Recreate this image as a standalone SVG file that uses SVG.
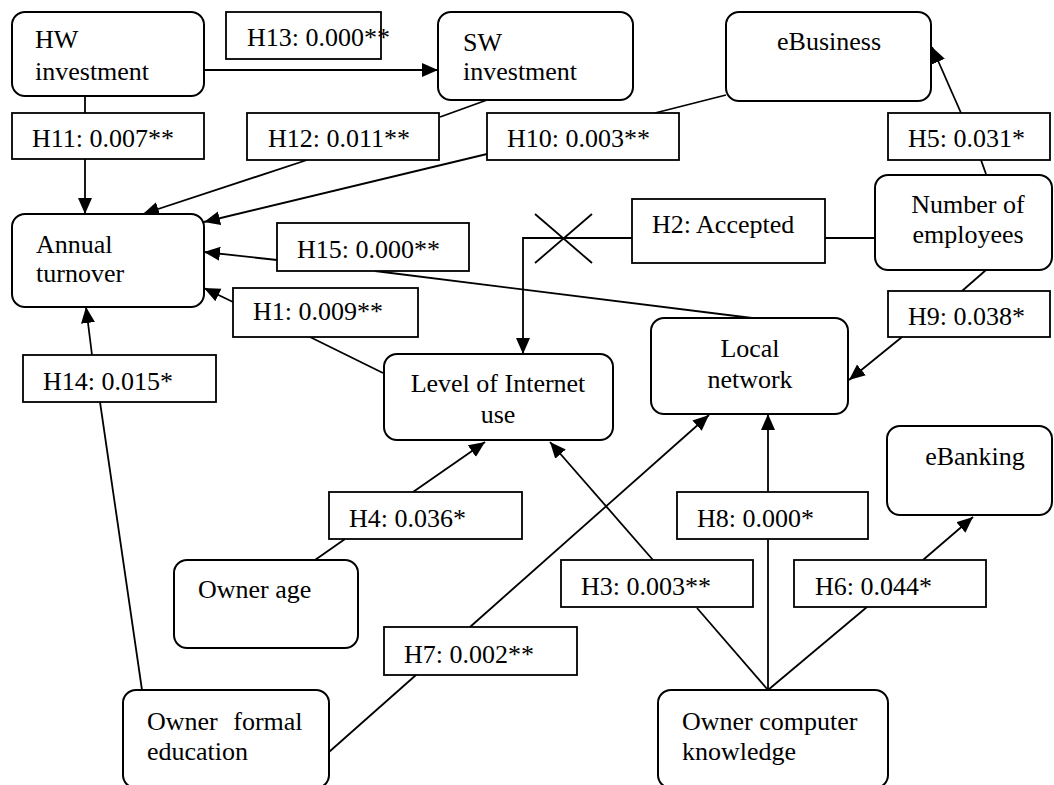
<svg xmlns="http://www.w3.org/2000/svg" width="1054" height="785" viewBox="0 0 1054 785">
<style>
.node{fill:#fff;stroke:#000;stroke-width:2}
.lbl{fill:#fff;stroke:#000;stroke-width:1.8}
text{font-family:"Liberation Serif","Times New Roman",serif;font-size:26px;fill:#000}
.c{text-anchor:middle}
.e{fill:none;stroke:#000;stroke-width:1.8}
</style>
<defs>
<marker id="ah" markerUnits="userSpaceOnUse" markerWidth="18" markerHeight="16" refX="16" refY="7" orient="auto">
<path d="M0,0 L16,7 L0,14 z" fill="#000"/>
</marker>
</defs>
<rect width="1054" height="785" fill="#fff"/>
<g id="connectors">
<line class="e" x1="204" y1="70" x2="438" y2="70" marker-end="url(#ah)"/>
<line class="e" x1="85" y1="96" x2="85" y2="113"/>
<line class="e" x1="85" y1="159" x2="85" y2="214" marker-end="url(#ah)"/>
<line class="e" x1="487" y1="100" x2="440" y2="117"/>
<line class="e" x1="307" y1="160" x2="143" y2="214" marker-end="url(#ah)"/>
<line class="e" x1="726" y1="95" x2="655" y2="113"/>
<line class="e" x1="487" y1="154" x2="204" y2="222" marker-end="url(#ah)"/>
<line class="e" x1="752" y1="318" x2="375" y2="271"/>
<line class="e" x1="277" y1="260" x2="204" y2="252" marker-end="url(#ah)"/>
<line class="e" x1="383" y1="373" x2="310" y2="337"/>
<line class="e" x1="233" y1="302" x2="204" y2="288" marker-end="url(#ah)"/>
<line class="e" x1="142" y1="690" x2="100" y2="402"/>
<line class="e" x1="92" y1="355" x2="86" y2="307" marker-end="url(#ah)"/>
<line class="e" x1="875" y1="238" x2="825" y2="238"/>
<polyline class="e" points="632,238 523,238 523,354" marker-end="url(#ah)"/>
<line class="e" x1="535" y1="214" x2="592" y2="263"/>
<line class="e" x1="592" y1="214" x2="535" y2="263"/>
<line class="e" x1="986" y1="174" x2="981" y2="160"/>
<line class="e" x1="961" y1="113" x2="932" y2="47" marker-end="url(#ah)"/>
<line class="e" x1="986" y1="270" x2="962" y2="291"/>
<line class="e" x1="902" y1="337" x2="849" y2="380" marker-end="url(#ah)"/>
<line class="e" x1="315" y1="560" x2="345" y2="539"/>
<line class="e" x1="413" y1="492" x2="485" y2="442" marker-end="url(#ah)"/>
<line class="e" x1="329" y1="752" x2="416" y2="675"/>
<line class="e" x1="470" y1="627" x2="709" y2="415" marker-end="url(#ah)"/>
<line class="e" x1="768" y1="690" x2="697" y2="608"/>
<line class="e" x1="653" y1="560" x2="550" y2="442" marker-end="url(#ah)"/>
<line class="e" x1="768" y1="690" x2="768" y2="539"/>
<line class="e" x1="768" y1="492" x2="768" y2="414" marker-end="url(#ah)"/>
<line class="e" x1="768" y1="690" x2="867" y2="607"/>
<line class="e" x1="923" y1="560" x2="973" y2="517" marker-end="url(#ah)"/>
</g>
<g id="hw"><rect class="node" x="12" y="12" width="192" height="84" rx="13"/><text x="35" y="48">HW</text><text x="35" y="80">investment</text></g>
<g id="sw"><rect class="node" x="438" y="12" width="195" height="88" rx="13"/><text x="463" y="51">SW</text><text x="463" y="80">investment</text></g>
<g id="ebusiness"><rect class="node" x="726" y="12" width="205" height="89" rx="13"/><text class="c" x="829" y="50">eBusiness</text></g>
<g id="annual"><rect class="node" x="12" y="214" width="192" height="93" rx="13"/><text x="36" y="253">Annual</text><text x="36" y="282">turnover</text></g>
<g id="employees"><rect class="node" x="875" y="175" width="177" height="95" rx="13"/><text class="c" x="968" y="213">Number of</text><text class="c" x="968" y="243">employees</text></g>
<g id="internet"><rect class="node" x="384" y="354" width="229" height="86" rx="13"/><text class="c" x="498" y="392">Level of Internet</text><text class="c" x="498" y="423">use</text></g>
<g id="localnet"><rect class="node" x="651" y="318" width="197" height="96" rx="13"/><text class="c" x="750" y="357">Local</text><text class="c" x="750" y="388">network</text></g>
<g id="ebanking"><rect class="node" x="887" y="426" width="165" height="89" rx="13"/><text class="c" x="975" y="465">eBanking</text></g>
<g id="ownerage"><rect class="node" x="174" y="560" width="184" height="88" rx="13"/><text x="198" y="598">Owner age</text></g>
<g id="education"><rect class="node" x="123" y="690" width="206" height="98" rx="13"/><text x="147" y="730" word-spacing="9">Owner formal</text><text x="147" y="760">education</text></g>
<g id="knowledge"><rect class="node" x="658" y="690" width="230" height="98" rx="13"/><text x="682" y="730">Owner computer</text><text x="682" y="760">knowledge</text></g>
<g id="h13"><rect class="lbl" x="226" y="12" width="155" height="47"/><text x="247" y="46">H13: 0.000**</text></g>
<g id="h11"><rect class="lbl" x="12" y="113" width="192" height="46"/><text x="32" y="147">H11: 0.007**</text></g>
<g id="h12"><rect class="lbl" x="247" y="113" width="192" height="47"/><text x="268" y="147">H12: 0.011**</text></g>
<g id="h10"><rect class="lbl" x="487" y="113" width="192" height="47"/><text x="507" y="147">H10: 0.003**</text></g>
<g id="h5"><rect class="lbl" x="888" y="113" width="162" height="47"/><text x="908" y="147">H5: 0.031*</text></g>
<g id="h2"><rect class="lbl" x="632" y="199" width="193" height="64"/><text x="652" y="233">H2: Accepted</text></g>
<g id="h15"><rect class="lbl" x="277" y="223" width="192" height="48"/><text x="297" y="258">H15: 0.000**</text></g>
<g id="h1"><rect class="lbl" x="233" y="288" width="185" height="49"/><text x="253" y="320">H1: 0.009**</text></g>
<g id="h9"><rect class="lbl" x="888" y="291" width="162" height="46"/><text x="908" y="325">H9: 0.038*</text></g>
<g id="h14"><rect class="lbl" x="23" y="355" width="193" height="47"/><text x="43" y="390">H14: 0.015*</text></g>
<g id="h4"><rect class="lbl" x="329" y="492" width="193" height="47"/><text x="349" y="527">H4: 0.036*</text></g>
<g id="h8"><rect class="lbl" x="677" y="492" width="191" height="47"/><text x="697" y="527">H8: 0.000*</text></g>
<g id="h3"><rect class="lbl" x="561" y="560" width="192" height="47"/><text x="581" y="595">H3: 0.003**</text></g>
<g id="h6"><rect class="lbl" x="794" y="560" width="192" height="47"/><text x="815" y="595">H6: 0.044*</text></g>
<g id="h7"><rect class="lbl" x="384" y="627" width="193" height="48"/><text x="404" y="663">H7: 0.002**</text></g>
</svg>
